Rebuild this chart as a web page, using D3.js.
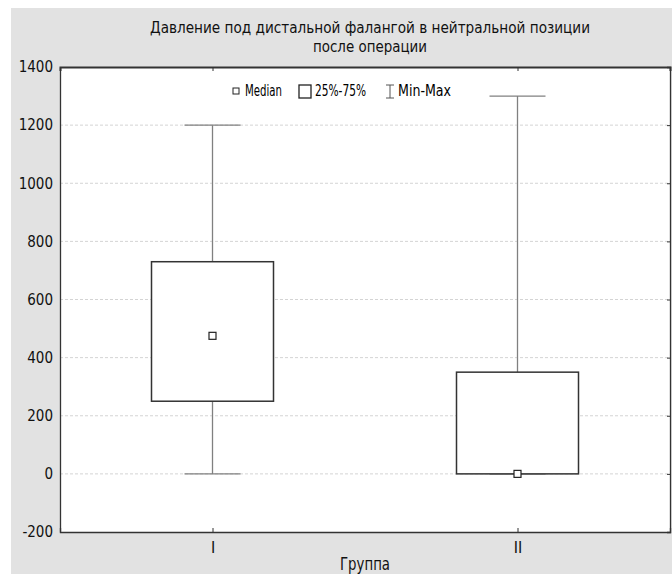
<!DOCTYPE html>
<html>
<head>
<meta charset="utf-8">
<script src="https://cdn.jsdelivr.net/npm/d3@7/dist/d3.min.js"></script>
<style>
  html, body { margin: 0; padding: 0; background: #fff; }
  svg { display: block; }
  text { font-family: "DejaVu Sans Condensed", "Liberation Sans", sans-serif; }
</style>
</head>
<body>
<div id="chart"></div>
<script>
const groups = ['I', 'II'];
const medians = [475, 0];
const q1 = [250, 0];
const q3 = [730, 350];
const mins = [0, 0];
const maxs = [1200, 1300];
const yTicks = [-200, 0, 200, 400, 600, 800, 1000, 1200, 1400];
const titleLines = ['Давление под дистальной фалангой в нейтральной позиции', 'после операции'];

const W = 672, H = 574;
const margin = { top: 67, right: 2, bottom: 42, left: 60 };
const innerW = W - margin.left - margin.right;
const innerH = H - margin.top - margin.bottom;

const svg = d3.select('#chart').append('svg').attr('width', W).attr('height', H);
svg.append('rect').attr('x', 11).attr('y', 8).attr('width', W - 11).attr('height', H - 8).attr('fill', '#e2e2e2');

const g = svg.append('g').attr('transform', `translate(${margin.left},${margin.top})`);
g.append('rect').attr('width', innerW).attr('height', innerH).attr('fill', '#fff');

const x = d3.scalePoint().domain(groups).range([0, innerW]).padding(0.5);
const y = d3.scaleLinear().domain([-200, 1400]).range([innerH, 0]);

// grid
g.append('g').selectAll('line').data(yTicks.slice(1, -1)).join('line')
  .attr('x1', 0).attr('x2', innerW)
  .attr('y1', d => y(d)).attr('y2', d => y(d))
  .attr('stroke', '#d4d4d4').attr('stroke-dasharray', '3,2');

// axes
const yAxis = g.append('g').call(d3.axisLeft(y).tickValues(yTicks).tickSize(0).tickPadding(7).tickFormat(d => String(d)));
const xAxis = g.append('g').attr('transform', `translate(0,${innerH})`)
  .call(d3.axisBottom(x).tickSize(-4).tickPadding(10));
const xTop = g.append('g').call(d3.axisTop(x).tickSize(-4).tickFormat(''));
const yRight = g.append('g').attr('transform', `translate(${innerW},0)`)
  .call(d3.axisRight(y).tickValues(yTicks).tickSize(-3).tickFormat(''));
[yAxis, xAxis, xTop, yRight].forEach(ax => {
  ax.selectAll('path.domain').attr('stroke', '#333').attr('stroke-width', 1.3);
  ax.selectAll('line').attr('stroke', '#333');
  ax.selectAll('text').attr('fill', '#111').attr('font-size', 15);
});
xTop.select('path.domain').attr('stroke-width', 2);
xAxis.selectAll('text').attr('font-size', 16);

// boxes and whiskers
const capW = 56, boxW = 122, medS = 7;
const bx = g.append('g');
groups.forEach((grp, i) => {
  const cx = x(grp);
  bx.append('line').attr('x1', cx).attr('x2', cx).attr('y1', y(maxs[i])).attr('y2', y(mins[i]))
    .attr('stroke', '#808080').attr('stroke-width', 1.3);
  [maxs[i], mins[i]].forEach(v => {
    bx.append('line').attr('x1', cx - capW / 2).attr('x2', cx + capW / 2).attr('y1', y(v)).attr('y2', y(v))
      .attr('stroke', '#808080').attr('stroke-width', 1.3);
  });
  bx.append('rect').attr('x', cx - boxW / 2).attr('width', boxW)
    .attr('y', y(q3[i])).attr('height', y(q1[i]) - y(q3[i]))
    .attr('fill', '#fff').attr('stroke', '#333').attr('stroke-width', 1.5);
  bx.append('rect').attr('x', cx - medS / 2).attr('y', y(medians[i]) - medS / 2)
    .attr('width', medS).attr('height', medS)
    .attr('fill', '#fff').attr('stroke', '#222').attr('stroke-width', 1.2);
});

// title
const tLens = [440, 114];
svg.append('g').selectAll('text').data(titleLines).join('text')
  .attr('x', 370).attr('y', (d, i) => 33 + i * 19).attr('text-anchor', 'middle')
  .attr('font-size', 16).attr('fill', '#111')
  .attr('textLength', (d, i) => tLens[i]).attr('lengthAdjust', 'spacingAndGlyphs')
  .text(d => d);

svg.append('text').attr('x', margin.left + x('I') + (x('II') - x('I')) / 2).attr('y', 570)
  .attr('text-anchor', 'middle').attr('font-size', 17).attr('fill', '#111')
  .attr('textLength', 50).attr('lengthAdjust', 'spacingAndGlyphs').text('Группа');

// legend
const lg = svg.append('g').attr('transform', 'translate(233,91)');
lg.append('rect').attr('x', 0).attr('y', -3).attr('width', 6).attr('height', 6)
  .attr('fill', '#fff').attr('stroke', '#222');
lg.append('text').attr('x', 12).attr('y', 5).attr('font-size', 15)
  .attr('textLength', 37).attr('lengthAdjust', 'spacingAndGlyphs').text('Median');
lg.append('rect').attr('x', 66).attr('y', -6).attr('width', 12).attr('height', 13)
  .attr('fill', '#fff').attr('stroke', '#222').attr('stroke-width', 1.3);
lg.append('text').attr('x', 82).attr('y', 5).attr('font-size', 15)
  .attr('textLength', 51).attr('lengthAdjust', 'spacingAndGlyphs').text('25%-75%');
lg.append('path').attr('d', 'M153,-6H161M157,-6V7M153,7H161').attr('stroke', '#555').attr('fill', 'none');
lg.append('text').attr('x', 165).attr('y', 5).attr('font-size', 15)
  .attr('textLength', 53).attr('lengthAdjust', 'spacingAndGlyphs').text('Min-Max');
</script>
</body>
</html>
